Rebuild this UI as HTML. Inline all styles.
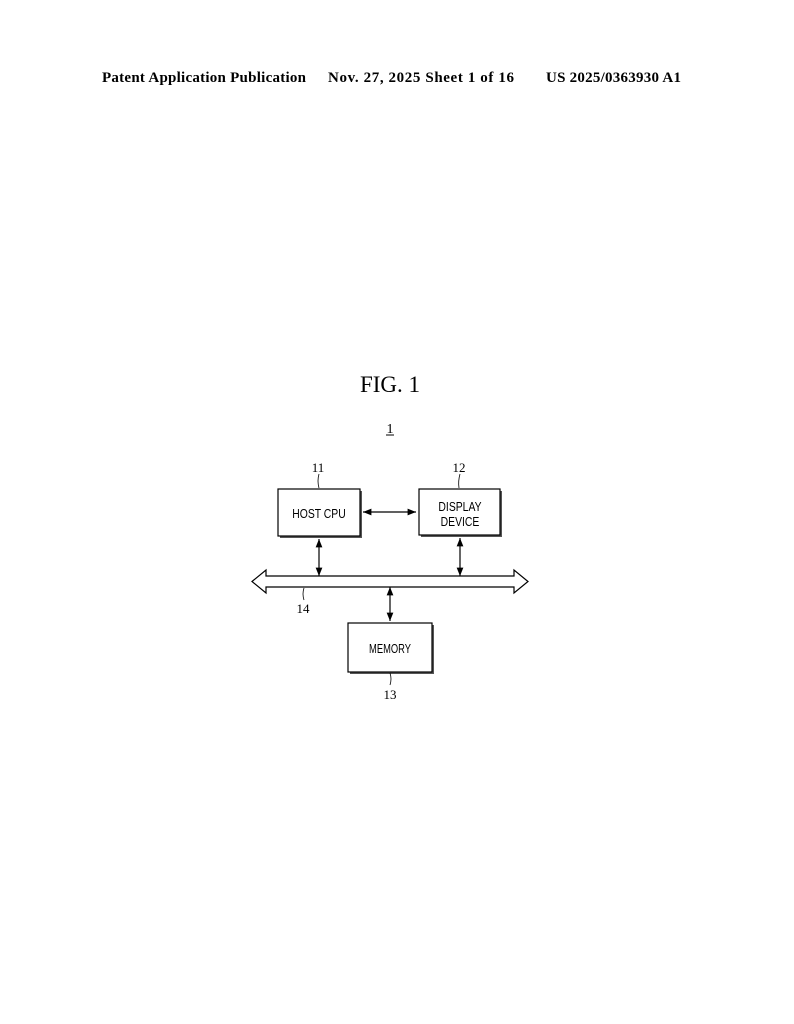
<!DOCTYPE html>
<html><head><meta charset="utf-8"><style>
body{margin:0;background:#fff;}
</style></head><body>
<svg width="794" height="1024" xmlns="http://www.w3.org/2000/svg" style="display:block">
<defs>
<marker id="a" viewBox="0 0 10 10" refX="10" refY="5" markerWidth="7" markerHeight="7" orient="auto-start-reverse"><path d="M0,1 L10,5 L0,9 z" fill="#000"/></marker>
</defs>
<g font-family="Liberation Serif, serif" font-weight="bold" font-size="15" fill="#000">
<text x="102" y="82" textLength="204" lengthAdjust="spacing">Patent Application Publication</text>
<text x="328" y="82" textLength="186" lengthAdjust="spacing">Nov. 27, 2025  Sheet 1 of 16</text>
<text x="546" y="82" textLength="135" lengthAdjust="spacing">US 2025/0363930 A1</text>
</g>
<text x="390" y="392" font-family="Liberation Serif, serif" font-size="23" text-anchor="middle">FIG. 1</text>
<text x="390" y="433" font-family="Liberation Serif, serif" font-size="14" text-anchor="middle">1</text>
<line x1="386" y1="435" x2="394" y2="435" stroke="#000" stroke-width="1"/>
<g fill="#fff" stroke="#000" stroke-width="1.2">
<rect x="280" y="491" width="82" height="47" fill="#555" stroke="none"/>
<rect x="278" y="489" width="82" height="47"/>
<rect x="421" y="491" width="81" height="46" fill="#555" stroke="none"/>
<rect x="419" y="489" width="81" height="46"/>
<rect x="350" y="625" width="84" height="49" fill="#555" stroke="none"/>
<rect x="348" y="623" width="84" height="49"/>
<path d="M252,581.5 L266,570 L266,576 L514,576 L514,570 L528,581.5 L514,593 L514,587 L266,587 L266,593 Z"/>
</g>
<g stroke="#000" stroke-width="1.2">
<line x1="363" y1="512" x2="416" y2="512" marker-start="url(#a)" marker-end="url(#a)"/>
<line x1="319" y1="539" x2="319" y2="576" marker-start="url(#a)" marker-end="url(#a)"/>
<line x1="460" y1="538" x2="460" y2="576" marker-start="url(#a)" marker-end="url(#a)"/>
<line x1="390" y1="587" x2="390" y2="621" marker-start="url(#a)" marker-end="url(#a)"/>
</g>
<g fill="none" stroke="#000" stroke-width="0.8">
<path d="M319,474 q-2,7 0,14"/>
<path d="M460,474 q-2,7 -1,14"/>
<path d="M304,588 q-2,6 0,12"/>
<path d="M390,673 q2,6 0,12"/>
</g>
<g font-family="Liberation Sans Narrow, Liberation Sans, sans-serif" font-size="13" text-anchor="middle" fill="#000">
<text x="318" y="472" font-family="Liberation Serif, serif">11</text>
<text x="459" y="472" font-family="Liberation Serif, serif">12</text>
<text x="303" y="613" font-family="Liberation Serif, serif">14</text>
<text x="390" y="699" font-family="Liberation Serif, serif">13</text>
<text x="319" y="518" font-size="13" transform="translate(319 0) scale(0.8 1) translate(-319 0)">HOST CPU</text>
<text x="460" y="511" font-size="13" transform="translate(460 0) scale(0.8 1) translate(-460 0)">DISPLAY</text>
<text x="460" y="526" font-size="13" transform="translate(460 0) scale(0.8 1) translate(-460 0)">DEVICE</text>
<text x="390" y="653" font-size="13" transform="translate(390 0) scale(0.72 1) translate(-390 0)">MEMORY</text>
</g>
</svg>
</body></html>
